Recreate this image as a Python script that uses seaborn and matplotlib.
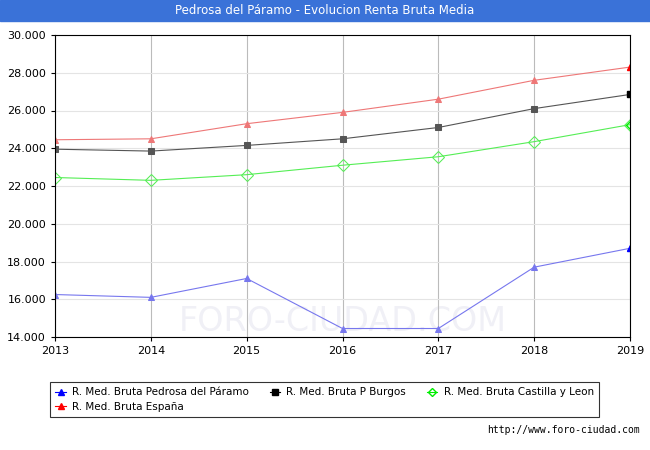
import pandas as pd
import seaborn as sns
from matplotlib import pyplot as plt
from matplotlib.patches import Rectangle

years = [2013, 2014, 2015, 2016, 2017, 2018, 2019]
pedrosa = [16250, 16100, 17100, 14450, 14450, 17700, 18700]
burgos = [23950, 23850, 24150, 24500, 25100, 26100, 26850]
cyl = [22450, 22300, 22600, 23100, 23550, 24350, 25250]
espana = [24450, 24500, 25300, 25900, 26600, 27600, 28300]

names = ["R. Med. Bruta Pedrosa del Páramo", "R. Med. Bruta P Burgos",
         "R. Med. Bruta Castilla y Leon", "R. Med. Bruta España"]
series = [pedrosa, burgos, cyl, espana]
colors = ["#7777ee", "#555555", "#55ee55", "#ee7777"]
lcolors = ["blue", "black", "#00ee00", "red"]
markers = ["^", "s", "D", "^"]

df = pd.DataFrame({"year": years * 4,
                   "value": sum(series, []),
                   "serie": [n for n in names for _ in years]})

fig = plt.figure(figsize=(6.5, 4.5), dpi=100)
ax = fig.add_axes([55 / 650, 1 - 337 / 450, 575 / 650, 302 / 450])
for name, c, m in zip(names, colors, markers):
    d = df[df["serie"] == name]
    sns.lineplot(data=d, x="year", y="value", ax=ax, color=c, lw=0.8,
                 marker=m, markersize=4 if m != "D" else 6,
                 markerfacecolor="none" if m == "D" else c,
                 markeredgecolor=c, legend=False)
for s, lc, m in zip(series, lcolors, markers):
    ax.plot(years[-1], s[-1], marker=m, color=lc, markersize=4, ls="none",
            markerfacecolor="none" if m == "D" else lc)

ax.set_xlim(2013, 2019)
ax.set_ylim(14000, 30000)
ax.set_xticks(years)
ax.set_yticks(range(14000, 30001, 2000))
ax.set_yticklabels([f"{v:,}".replace(",", ".") for v in range(14000, 30001, 2000)])
ax.tick_params(labelsize=8, length=3)
ax.set_xlabel("")
ax.set_ylabel("")
ax.grid(axis="x", color="#bbbbbb", lw=0.8)
ax.grid(axis="y", color="#e4e4e4", lw=0.8)
ax.text(2016, 14800, "FORO-CIUDAD.COM", ha="center", va="center",
        fontsize=24, color="#f0f0f6", zorder=0)

fig.patches.append(Rectangle((0, 1 - 21 / 450), 1, 21 / 450, transform=fig.transFigure,
                             color="#3a72d8", zorder=0))
fig.text(0.5, 1 - 11 / 450, "Pedrosa del Páramo - Evolucion Renta Bruta Media",
         ha="center", va="center", color="white", fontsize=8.5)

handles = [plt.Line2D([], [], color=lc, marker=m, markersize=4, lw=0.8,
                      markerfacecolor="none" if m == "D" else lc)
           for lc, m in zip(lcolors, markers)]
order = [0, 3, 1, 2]
leg = fig.legend([handles[i] for i in order], [names[i] for i in order],
                 loc="upper left", ncol=3,
                 bbox_to_anchor=(45 / 650, 1 - 377 / 450), fontsize=7.5,
                 frameon=True, fancybox=False, edgecolor="black",
                 handlelength=1.0, handletextpad=0.6, columnspacing=2.0,
                 borderpad=0.5, labelspacing=0.4)
leg.get_frame().set_linewidth(0.8)
fig.text(640 / 650, 1 - 433 / 450, "http://www.foro-ciudad.com", ha="right",
         fontsize=7, family="DejaVu Sans Mono")
fig.savefig("out.png")
